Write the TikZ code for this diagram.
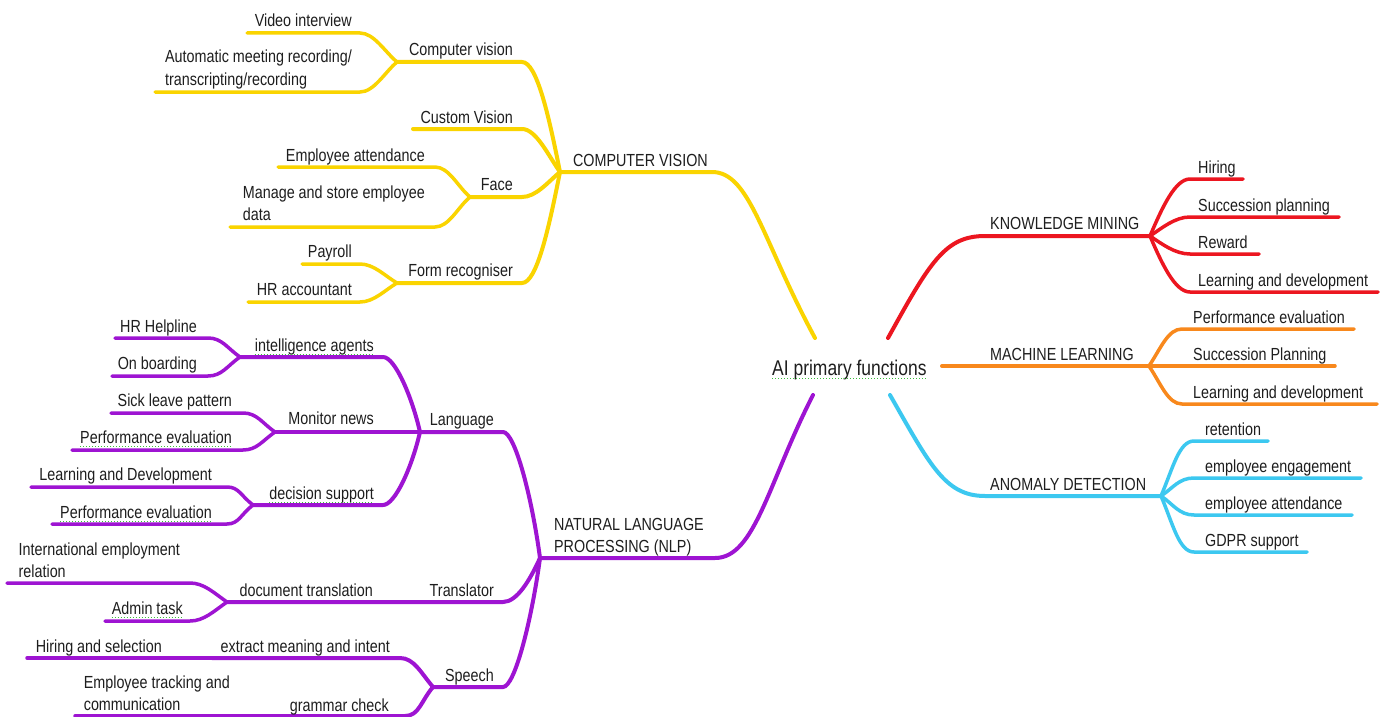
\documentclass[tikz,border=0pt]{standalone}
\usepackage{fontspec}
\setmainfont{Liberation Sans}[FakeStretch=0.82]
\definecolor{ink}{RGB}{30,30,30}
\definecolor{yel}{RGB}{250,212,0}
\definecolor{redc}{RGB}{236,22,32}
\definecolor{orc}{RGB}{248,136,28}
\definecolor{cyc}{RGB}{60,200,240}
\definecolor{pur}{RGB}{158,20,210}
\definecolor{spellgreen}{RGB}{60,190,60}
\begin{document}
\begin{tikzpicture}[x=1pt,y=-1pt,
  every node/.style={inner sep=0pt, text=ink},
  lbl/.style={font=\fontsize{17.5}{22.5}\selectfont},
  lft/.style={lbl, anchor=base east},
  rgt/.style={lbl, anchor=base west},
  branch/.style={line width=4pt, line cap=round},
  leaf/.style={line width=3.5pt, line cap=round},
  spell/.style={draw=spellgreen, line width=1pt, dotted},
]
\fill[white] (0,0) rectangle (1389,717);
\useasboundingbox (0,0) rectangle (1389,717);

% ---------- coordinates: computer vision (yellow) ----------
\coordinate (cvS) at (815,338);
\coordinate (cvB) at (712,172);
\coordinate (cvH) at (560,172);
\coordinate (cvsR) at (522,62);  \coordinate (cvsJ) at (397,62);
\coordinate (viR) at (360,33);   \coordinate (viL) at (247,33);
\coordinate (amR) at (360,92);   \coordinate (amL) at (155,92);
\coordinate (cusR) at (522,129); \coordinate (cusL) at (413,129);
\coordinate (faR) at (522,197);  \coordinate (faJ) at (470,197);
\coordinate (eaR) at (435,167);  \coordinate (eaL) at (278,167);
\coordinate (msR) at (435,227);  \coordinate (msL) at (230,227);
\coordinate (frR) at (522,283);  \coordinate (frJ) at (397,283);
\coordinate (paR) at (360,264);  \coordinate (paL) at (302,264);
\coordinate (hraR) at (360,302); \coordinate (hraL) at (248,302);

\begin{scope}[draw=yel]
\draw[branch] (cvS) .. controls +(-53,-98) and +(38,0) .. (cvB) -- (cvH);
\draw[branch] (cvH) .. controls +(-11,-55) and +(15,0) .. (cvsR) -- (cvsJ);
\draw[branch] (cvH) .. controls +(-12,-17) and +(14,0) .. (cusR) -- (cusL);
\draw[branch] (cvH) .. controls +(-12,10) and +(14,0) .. (faR) -- (faJ);
\draw[branch] (cvH) .. controls +(-11,55) and +(15,0) .. (frR) -- (frJ);
\draw[leaf] (cvsJ) .. controls +(-12,-10) and +(14,0) .. (viR) -- (viL);
\draw[leaf] (cvsJ) .. controls +(-12,10) and +(14,0) .. (amR) -- (amL);
\draw[leaf] (faJ) .. controls +(-12,-10) and +(14,0) .. (eaR) -- (eaL);
\draw[leaf] (faJ) .. controls +(-12,10) and +(14,0) .. (msR) -- (msL);
\draw[leaf] (frJ) .. controls +(-12,-7) and +(14,0) .. (paR) -- (paL);
\draw[leaf] (frJ) .. controls +(-12,7) and +(14,0) .. (hraR) -- (hraL);
\end{scope}

% ---------- coordinates: natural language processing (purple) ----------
\coordinate (nlS) at (813,395);
\coordinate (nlB) at (715,558);
\coordinate (nlH) at (540,558);
\coordinate (laR) at (503,432);  \coordinate (laJ) at (420,432);
\coordinate (trR) at (503,602);  \coordinate (trJ) at (227,602);
\coordinate (spR) at (503,687);  \coordinate (spJ) at (433,687);
\coordinate (iaR) at (383,357);  \coordinate (iaJ) at (240,357);
\coordinate (mnJ) at (275,432);
\coordinate (dsR) at (383,505);  \coordinate (dsJ) at (253,505);
\coordinate (hhR) at (208,338);  \coordinate (hhL) at (115,338);
\coordinate (obR) at (208,376);  \coordinate (obL) at (112,376);
\coordinate (slR) at (243,413);  \coordinate (slL) at (111,413);
\coordinate (pe1R) at (243,450); \coordinate (pe1L) at (72,450);
\coordinate (ldR) at (227,487);  \coordinate (ldL) at (31,487);
\coordinate (pe2R) at (227,524); \coordinate (pe2L) at (52,524);
\coordinate (ieR) at (190,583);  \coordinate (ieL) at (7,583);
\coordinate (atR) at (190,621);  \coordinate (atL) at (105,621);
\coordinate (emR) at (400,658);  \coordinate (emJ) at (212,658);
\coordinate (hsL) at (27,658);
\coordinate (gcR) at (405,716);  \coordinate (gcJ) at (285,716);
\coordinate (etL) at (75,716);

\begin{scope}[draw=pur]
\draw[branch] (nlS) .. controls +(-45,88) and +(40,0) .. (nlB) -- (nlH);
\draw[branch] (nlH) .. controls +(-8,-60) and +(12,0) .. (laR) -- (laJ);
\draw[branch] (nlH) .. controls +(-10,22) and +(14,0) .. (trR) -- (trJ);
\draw[branch] (nlH) .. controls +(-8,60) and +(12,0) .. (spR) -- (spJ);
\draw[branch] (laJ) .. controls +(-8,-35) and +(12,0) .. (iaR) -- (iaJ);
\draw[branch] (laJ) -- (mnJ);
\draw[branch] (laJ) .. controls +(-8,35) and +(12,0) .. (dsR) -- (dsJ);
\draw[leaf] (iaJ) .. controls +(-13,-9) and +(14,0) .. (hhR) -- (hhL);
\draw[leaf] (iaJ) .. controls +(-13,9) and +(14,0) .. (obR) -- (obL);
\draw[leaf] (mnJ) .. controls +(-13,-9) and +(14,0) .. (slR) -- (slL);
\draw[leaf] (mnJ) .. controls +(-13,9) and +(14,0) .. (pe1R) -- (pe1L);
\draw[leaf] (dsJ) .. controls +(-12,-9) and +(12,0) .. (ldR) -- (ldL);
\draw[leaf] (dsJ) .. controls +(-12,9) and +(12,0) .. (pe2R) -- (pe2L);
\draw[leaf] (trJ) .. controls +(-13,-9) and +(14,0) .. (ieR) -- (ieL);
\draw[leaf] (trJ) .. controls +(-13,9) and +(14,0) .. (atR) -- (atL);
\draw[branch] (spJ) .. controls +(-12,-14) and +(14,0) .. (emR) -- (emJ);
\draw[leaf] (emJ) -- (hsL);
\draw[branch] (spJ) .. controls +(-12,14) and +(14,0) .. (gcR) -- (gcJ);
\draw[leaf] (gcJ) -- (etL);
\end{scope}

% ---------- coordinates: knowledge mining (red) ----------
\coordinate (kmS) at (888,338);
\coordinate (kmB) at (985,236);
\coordinate (kmH) at (1150,236);
\coordinate (hiL) at (1190,179); \coordinate (hiR) at (1243,179);
\coordinate (suL) at (1190,217); \coordinate (suR) at (1339,217);
\coordinate (reL) at (1190,254); \coordinate (reR) at (1259,254);
\coordinate (l1L) at (1190,292); \coordinate (l1R) at (1378,292);

\begin{scope}[draw=redc]
\draw[branch] (kmS) .. controls +(42,-76) and +(-40,0) .. (kmB) -- (kmH);
\draw[leaf] (kmH) .. controls +(12,-28) and +(-15,0) .. (hiL) -- (hiR);
\draw[leaf] (kmH) .. controls +(12,-8) and +(-15,0) .. (suL) -- (suR);
\draw[leaf] (kmH) .. controls +(12,8) and +(-15,0) .. (reL) -- (reR);
\draw[leaf] (kmH) .. controls +(12,28) and +(-15,0) .. (l1L) -- (l1R);
\end{scope}

% ---------- coordinates: machine learning (orange) ----------
\coordinate (mlS) at (942,366);
\coordinate (mlH) at (1149,366);
\coordinate (peL) at (1182,329); \coordinate (peR) at (1354,329);
\coordinate (sPR) at (1335,366);
\coordinate (l2L) at (1182,404); \coordinate (l2R) at (1377,404);

\begin{scope}[draw=orc]
\draw[branch] (mlS) -- (mlH);
\draw[leaf] (mlH) .. controls +(12,-18) and +(-14,0) .. (peL) -- (peR);
\draw[leaf] (mlH) -- (sPR);
\draw[leaf] (mlH) .. controls +(12,18) and +(-14,0) .. (l2L) -- (l2R);
\end{scope}

% ---------- coordinates: anomaly detection (cyan) ----------
\coordinate (adS) at (890,395);
\coordinate (adB) at (985,496);
\coordinate (adH) at (1161,496);
\coordinate (rtL) at (1194,441); \coordinate (rtR) at (1268,441);
\coordinate (eeL) at (1194,478); \coordinate (eeR) at (1361,478);
\coordinate (atdL) at (1194,515); \coordinate (atdR) at (1352,515);
\coordinate (gdL) at (1194,552); \coordinate (gdR) at (1307,552);

\begin{scope}[draw=cyc]
\draw[branch] (adS) .. controls +(40,70) and +(-40,0) .. (adB) -- (adH);
\draw[leaf] (adH) .. controls +(12,-28) and +(-15,0) .. (rtL) -- (rtR);
\draw[leaf] (adH) .. controls +(12,-8) and +(-15,0) .. (eeL) -- (eeR);
\draw[leaf] (adH) .. controls +(12,8) and +(-15,0) .. (atdL) -- (atdR);
\draw[leaf] (adH) .. controls +(12,28) and +(-15,0) .. (gdL) -- (gdR);
\end{scope}

% ---------- labels ----------
\node[anchor=base west, font=\fontsize{21.3}{26}\selectfont] (root) at (772,375) {AI primary functions};

\node[lft] (tCV) at (708,166) {COMPUTER VISION};
\node[lft] (tcvs) at (513,56) {Computer vision};
\node[lft] (tvi) at (352,27) {Video interview};
\node[lft] (tam) at (352,63) {\begin{tabular}[t]{@{}l@{}}Automatic meeting recording/\\transcripting/recording\end{tabular}};
\node[lft] (tcus) at (513,123) {Custom Vision};
\node[lft] (tfa) at (513,190) {Face};
\node[lft] (tea) at (425,161) {Employee attendance};
\node[lft] (tms) at (425,198) {\begin{tabular}[t]{@{}l@{}}Manage and store employee\\data\end{tabular}};
\node[lft] (tfr) at (513,276) {Form recogniser};
\node[lft] (tpa) at (352,257) {Payroll};
\node[lft] (thra) at (352,295) {HR accountant};

\node[lft] (tNLP) at (704,530) {\begin{tabular}[t]{@{}l@{}}NATURAL LANGUAGE\\PROCESSING (NLP)\end{tabular}};
\node[lft] (tla) at (494,425) {Language};
\node[lft] (ttr) at (494,596) {Translator};
\node[lft] (tsp) at (494,681) {Speech};
\node[lft] (tia) at (374,351) {intelligence agents};
\node[lft] (tmn) at (374,424) {Monitor news};
\node[lft] (tds) at (374,499) {decision support};
\node[lft] (thh) at (197,332) {HR Helpline};
\node[lft] (tob) at (197,369) {On boarding};
\node[lft] (tsl) at (232,406) {Sick leave pattern};
\node[lft] (tpe1) at (232,443) {Performance evaluation};
\node[lft] (tld) at (212,480) {Learning and Development};
\node[lft] (tpe2) at (212,518) {Performance evaluation};
\node[lft] (tdt) at (373,596) {document translation};
\node[lft] (tie) at (180,555) {\begin{tabular}[t]{@{}l@{}}International employment\\relation\end{tabular}};
\node[lft] (tat) at (183,614) {Admin task};
\node[lft] (ths) at (162,652) {Hiring and selection};
\node[lft] (tem) at (390,652) {extract meaning and intent};
\node[lft] (tet) at (230,688) {\begin{tabular}[t]{@{}l@{}}Employee tracking and\\communication\end{tabular}};
\node[lft] (tgc) at (389,711) {grammar check};

\node[rgt] (tKM) at (990,229) {KNOWLEDGE MINING};
\node[rgt] (thi) at (1198,173) {Hiring};
\node[rgt] (tsu) at (1198,211) {Succession planning};
\node[rgt] (tre) at (1198,248) {Reward};
\node[rgt] (tl1) at (1198,286) {Learning and development};

\node[rgt] (tML) at (990,360) {MACHINE LEARNING};
\node[rgt] (tpe) at (1193,323) {Performance evaluation};
\node[rgt] (tsP) at (1193,360) {Succession Planning};
\node[rgt] (tl2) at (1193,398) {Learning and development};

\node[rgt] (tAD) at (990,490) {ANOMALY DETECTION};
\node[rgt] (trt) at (1205,435) {retention};
\node[rgt] (tee) at (1205,472) {employee engagement};
\node[rgt] (tatd) at (1205,509) {employee attendance};
\node[rgt] (tgd) at (1205,546) {GDPR support};

% ---------- spell-check underlines ----------
\foreach \n in {root,tia,tds,tpe1,tpe2,tat}
  \draw[spell] ([yshift=-3pt]\n.base west) -- ([yshift=-3pt]\n.base east);
\end{tikzpicture}
\end{document}
